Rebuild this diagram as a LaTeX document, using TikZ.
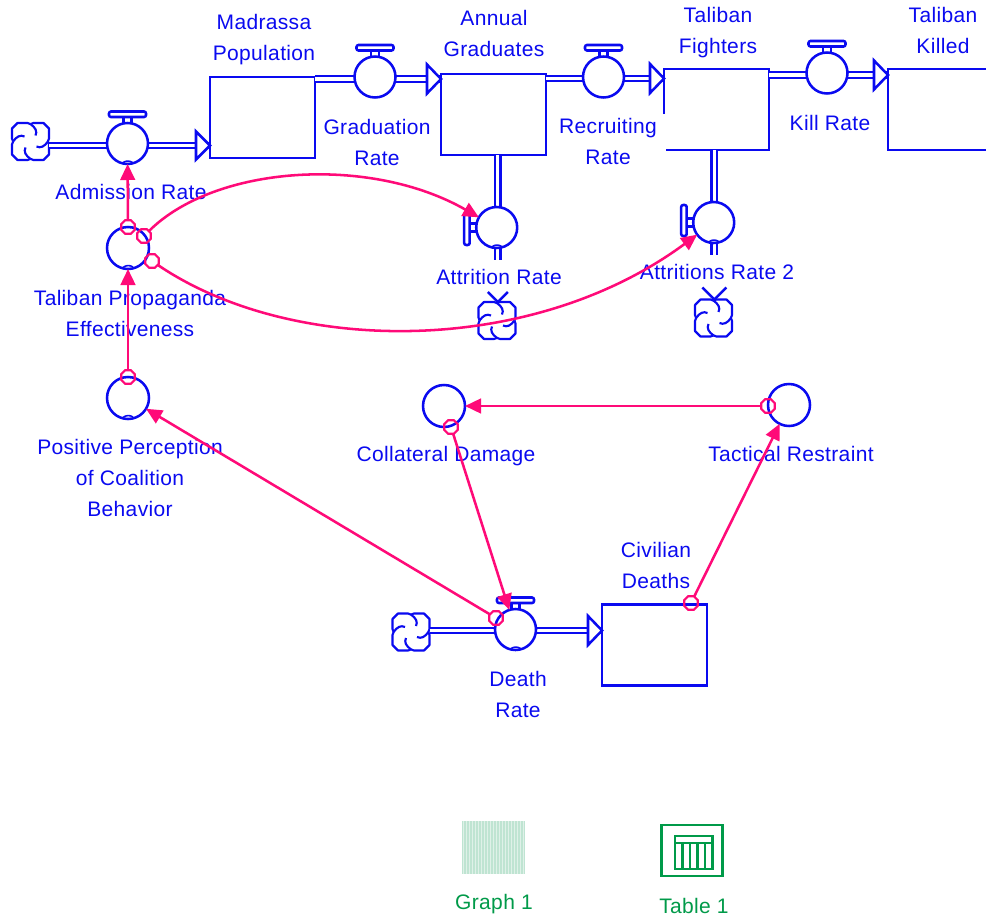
\documentclass[tikz,border=0pt]{standalone}
\usepackage{fontspec}
\setmainfont[LetterSpace=1.6]{Liberation Sans}
\usetikzlibrary{arrows.meta,calc,shapes.geometric}
\definecolor{sdblue}{HTML}{0A0AF0}
\definecolor{sdpink}{HTML}{FF0A78}
\definecolor{sdgreen}{HTML}{009A49}
\definecolor{sdpale}{HTML}{BFE4D2}
\tikzset{
  blueline/.style={draw=sdblue,line width=1.9pt},
  stock/.style={blueline,fill=white,rectangle,minimum width=78.75pt,minimum height=60.75pt,outer sep=0pt,inner sep=0pt},
  valve/.style={blueline,fill=white,circle,minimum size=30.75pt,outer sep=0pt,inner sep=0pt},
  conv/.style={valve,minimum size=31.5pt},
  cloudshape/.style={fill=white,rectangle,minimum size=27.75pt,outer sep=0pt,inner sep=0pt},
  pipe/.style={draw=sdblue,line width=1.7pt,double=white,double distance=2.5pt},
  pipehead/.style={blueline,fill=white,line join=miter},
  tap/.style={draw=sdpink,line width=1.6pt,regular polygon,regular polygon sides=8,minimum size=11pt,inner sep=0pt,outer sep=0pt},
  link/.style={draw=sdpink,line width=1.9pt,-{Triangle[length=12pt,width=11pt]}},
  lab/.style={fill=white,text=sdblue,align=center,inner xsep=4.5pt,inner ysep=3pt,
    font=\fontsize{15.75pt}{23.25pt}\selectfont,
    execute at begin node={\rule{0pt}{15.5pt}},execute at end node={\rule[-1.2pt]{0pt}{1.2pt}}},
  glab/.style={text=sdgreen,anchor=base,inner sep=0pt,font=\fontsize{15.75pt}{23.25pt}\selectfont},
}
\newcommand\cloudat[3]{%
  \node[cloudshape] (#1) at (#2,#3) {};
  \foreach \r in {0,90,180,270}{
    \draw[blueline,line width=1.6pt,line join=round,shift={(#1.center)},rotate=\r]
      (0,-17.4) -- (3,-18.5) -- (13,-18.5) -- (18.5,-13) -- (18.5,-3) -- (17.4,0);
    \draw[blueline,line width=1.6pt,shift={(#1.center)},rotate=\r]
      (0,-17.4) .. controls (5,-14) and (7,-10) .. (5,-6);
  }}
\newcommand\handleup[1]{%
  \draw[blueline,fill=white,rounded corners=1.5pt,shift={(#1.center)}] (-18.5,-32) rectangle (18.5,-26.5);
  \draw[blueline,shift={(#1.center)}] (-4,-26.5)--(-4,-20.5) (4,-26.5)--(4,-20.5);}
\newcommand\handleleft[3]{%
  \draw[blueline,fill=white,rounded corners=1.5pt,shift={(#1.center)}] (-32.5,#2) rectangle (-27,#2+31);
  \draw[blueline,shift={(#1.center)}] (-27,#3-4)--(-20.5,#3-4) (-27,#3+4)--(-20.5,#3+4);}
\newcommand\bottomtick[1]{%
  \draw[blueline,line width=1.2pt,shift={(#1.center)}] (-5,19.5) .. controls (-2,17) and (2,17) .. (5,19);}
\begin{document}
\begin{tikzpicture}[x=0.75pt,y=-0.75pt]
\clip (0,0) rectangle (986,917);
\fill[white] (0,0) rectangle (986,917);

% report icons
\node[fill=sdpale,minimum width=47.25pt,minimum height=39.75pt,inner sep=0pt,outer sep=0pt] (graphicon) at (493.5,847.5) {};
\foreach \gx in {-30,-27,...,30}{
  \draw[white,opacity=0.5,line width=0.4pt,shift={(graphicon.center)}] (\gx,-26.5) -- (\gx,26.5);
}
\node[draw=sdgreen,line width=1.9pt,minimum width=45.5pt,minimum height=38.25pt,inner sep=0pt,outer sep=0pt] (tableicon) at (692,850.5) {};
\draw[sdgreen,line width=1.9pt,shift={(tableicon.center)}] (-17,-14.5) rectangle (20.5,18.5)
  (-17,-7.5) -- (20.5,-7.5)
  (-9.5,-7.5) -- (-9.5,18.5) (-2,-7.5) -- (-2,18.5) (5.5,-7.5) -- (5.5,18.5) (13,-7.5) -- (13,18.5);

% stocks
\node[stock] (sMad) at (262.5,117.5) {};
\node[stock] (sAnn) at (493.5,114.5) {};
\node[stock] (sFig) at (716.5,109.5) {};
\node[stock] (sKil) at (940.5,109.5) {};
\node[stock] (sCiv) at (654.5,645) {};

% clouds
\cloudat{cAdm}{30.5}{141.5}
\cloudat{cDea}{411}{632}
\cloudat{cAtt}{497}{320.5}
\cloudat{cAtb}{713.5}{318}

% pipe levels
\coordinate (pAdm) at (127.5,145.5);
\coordinate (pGra) at (375,79);
\coordinate (pRec) at (603.5,78.5);
\coordinate (pKil) at (827,75);
\coordinate (pDea) at (515.5,630.5);
\coordinate (pAtt) at (497.8,227.5);
\coordinate (pAtb) at (714.3,222.5);
\coordinate (qAtt) at (497.8,286);
\coordinate (qAtb) at (714.3,283);

% pipes
\draw[pipe] (cAdm.east |- pAdm) -- (pAdm -| sMad.west);
\draw[pipe] (pGra -| sMad.east) -- (pGra -| sAnn.west);
\draw[pipe] (pRec -| sAnn.east) -- (pRec -| sFig.west);
\draw[pipe] (pKil -| sFig.east) -- (pKil -| sKil.west);
\draw[pipe] (cDea.east |- pDea) -- (pDea -| sCiv.west);
\draw[pipe] (pAtt |- sAnn.south) -- (qAtt);
\draw[pipe] (pAtb |- sFig.south) -- (qAtb);

% pipe heads
\draw[pipehead,shift={(pAdm -| sMad.west)}] (-14,-14) -- (0,0) -- (-14,14) -- cycle;
\draw[pipehead,shift={(pGra -| sAnn.west)}] (-14,-14.5) -- (0,0) -- (-14,14.5) -- cycle;
\draw[pipehead,shift={(pRec -| sFig.west)}] (-14,-14.5) -- (0,0) -- (-14,14.5) -- cycle;
\draw[pipehead,shift={(pKil -| sKil.west)}] (-14,-14.5) -- (0,0) -- (-14,14.5) -- cycle;
\draw[pipehead,shift={(pDea -| sCiv.west)}] (-14,-14.5) -- (0,0) -- (-14,14.5) -- cycle;
\draw[blueline,shift={(pAtt |- cAtt.north)}] (-10,-10) -- (0,0) -- (10,-10);
\draw[blueline,shift={(pAtb |- cAtb.north)}] (-12,-12) -- (0,0) -- (12,-12);

% valves
\node[valve] (vAdm) at (127.5,143.5) {};
\node[valve] (vGra) at (375,77) {};
\node[valve] (vRec) at (603.5,77) {};
\node[valve] (vKil) at (827,73) {};
\node[valve] (vDea) at (515.5,629.5) {};
\node[valve] (vAtt) at (496.7,227.5) {};
\node[valve] (vAtb) at (713.7,222.5) {};
\handleup{vAdm}\handleup{vGra}\handleup{vRec}\handleup{vKil}\handleup{vDea}
\handleleft{vAtt}{-13.5}{0}
\handleleft{vAtb}{-17.5}{0}
\bottomtick{vAdm}\bottomtick{vDea}\bottomtick{vAtt}\bottomtick{vAtb}

% converters
\node[conv] (kPro) at (128,248) {};
\node[conv] (kPos) at (128,398) {};
\node[conv] (kCol) at (444,406) {};
\node[conv] (kTac) at (789,405) {};
\bottomtick{kPro}\bottomtick{kPos}

% labels
\node[lab] (lMad) at (264,39.5) {Madrassa\\Population};
\node[lab] (lAnn) at (494,34.5) {Annual\\Graduates};
\node[lab] (lFig) at (718,32.5) {Taliban\\Fighters};
\node[lab] (lKil) at (943,31.5) {Taliban\\Killed};
\node[lab] (lGra) at (377,143) {Graduation\\Rate};
\node[lab,minimum width=86.25pt] (lRec) at (608,142) {Recruiting\\Rate};
\node[lab] (lKra) at (830,121) {Kill Rate};
\node[lab] (lAdm) at (131,190) {Admission Rate};
\node[lab] (lAtt) at (499,275) {Attrition Rate};
\node[lab] (lAtb) at (717,270) {Attritions Rate 2};
\node[lab] (lPro) at (130,314.5) {Taliban Propaganda\\Effectiveness};
\node[lab] (lPos) at (130,479) {Positive Perception\\of Coalition\\Behavior};
\node[lab] (lCol) at (446,453) {Collateral Damage};
\node[lab] (lTac) at (791,452) {Tactical Restraint};
\node[lab] (lCiv) at (656,566) {Civilian\\Deaths};
\node[lab] (lDea) at (518,695) {Death\\Rate};
\node[glab] (lGrp) at (494,909.5) {Graph 1};
\node[glab] (lTab) at (694,913.5) {Table 1};

% connector taps
\node[tap] (t1) at (128,227) {};
\node[tap] (t2) at (144,236) {};
\node[tap] (t3) at (152,261) {};
\node[tap] (t4) at (128,377) {};
\node[tap] (t5) at (496,618) {};
\node[tap] (t6) at (451,427) {};
\node[tap] (t7) at (768,406) {};
\node[tap] (t8) at (691,603) {};

% connectors
\draw[link] (t1) -- (vAdm);
\draw[link] (t2) .. controls (215,165) and (370,155) .. (vAtt);
\draw[link] (t3) .. controls (290,355) and (530,358) .. (vAtb);
\draw[link] (t4) -- (kPro);
\draw[link] (t5) -- (kPos);
\draw[link] (t6) -- (vDea);
\draw[link] (t7) -- (kCol);
\draw[link] (t8) -- (kTac);
\end{tikzpicture}
\end{document}
